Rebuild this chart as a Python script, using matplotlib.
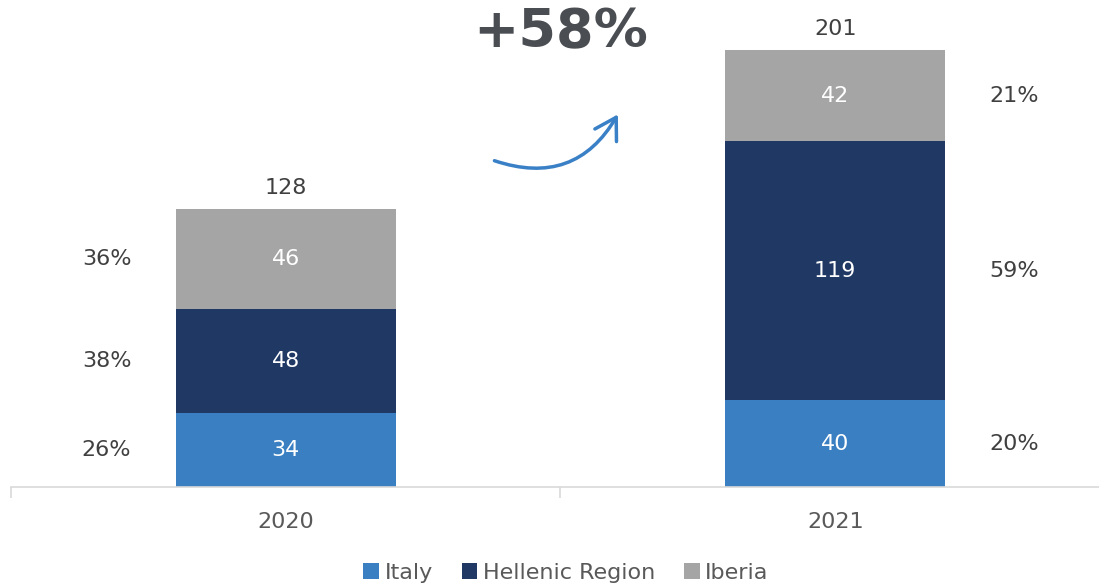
import matplotlib.pyplot as plt
import numpy as np
from matplotlib.patches import FancyArrowPatch

# Datos por región y año
years = ['2020', '2021']
italy = [34, 40]
hellenic = [48, 119]
iberia = [46, 42]
totals = [128, 201]
pct_2020 = ['26%', '38%', '36%']
pct_2021 = ['20%', '59%', '21%']
growth = '+58%'

series = [('Italy', italy, '#3a7fc1'),
          ('Hellenic Region', hellenic, '#203864'),
          ('Iberia', iberia, '#a5a5a5')]

plt.rcParams['font.family'] = 'DejaVu Sans'
fig = plt.figure(figsize=(10.99, 5.84), dpi=100)
ax = fig.add_axes([0.01, 1 - 487 / 584, 1.0, 487 / 584])

x = np.arange(len(years))
width = 0.4
bottom = np.zeros(len(years))
centers = []
for name, vals, color in series:
    vals = np.array(vals, dtype=float)
    ax.bar(x, vals, width, bottom=bottom, color=color, label=name)
    for xi, b, v in zip(x, bottom, vals):
        ax.text(xi, b + v / 2, f'{int(v)}', ha='center', va='center',
                color='white', fontsize=16)
    centers.append(bottom + vals / 2)
    bottom = bottom + vals

# Totales encima de cada barra
for xi, t in zip(x, totals):
    ax.text(xi, t + 5, str(t), ha='center', va='bottom', color='#404040', fontsize=16)

# Porcentajes a los lados de las barras
for i, c in enumerate(centers):
    ax.text(-0.326, c[0], pct_2020[i], ha='center', va='center', color='#404040', fontsize=16)
    ax.text(1.326, c[1], pct_2021[i], ha='center', va='center', color='#404040', fontsize=16)

# Crecimiento y flecha
ax.text(0.5, 209, growth, ha='center', va='center', fontsize=39,
        fontweight='bold', color='#4a4d52')
arrow = FancyArrowPatch((0.375, 150.5), (0.607, 172.5),
                        connectionstyle='arc3,rad=0.42',
                        arrowstyle='->,head_length=10,head_width=6',
                        color='#3a80c6', lw=2.5, mutation_scale=1.5)
ax.add_patch(arrow)

ax.set_xlim(-0.5, 1.5)
ax.set_ylim(0, 224)
ax.set_yticks([])
for s in ['top', 'right', 'left']:
    ax.spines[s].set_visible(False)
ax.spines['bottom'].set_color('#d9d9d9')
ax.spines['bottom'].set_linewidth(1.2)
ax.set_xticks(x)
ax.set_xticklabels(years, fontsize=16, color='#595959')
ax.tick_params(axis='x', which='major', length=0, pad=18)
ax.set_xticks([-0.5, 0.5, 1.5], minor=True)
ax.tick_params(axis='x', which='minor', length=8, color='#d9d9d9', width=1.2)

fig.legend(loc='lower center', bbox_to_anchor=(0.515, -0.032), ncol=3, frameon=False,
           fontsize=16, labelcolor='#595959', handlelength=0.7, handleheight=0.7,
           handletextpad=0.25, columnspacing=1.3)

plt.savefig('out.png', dpi=100)
